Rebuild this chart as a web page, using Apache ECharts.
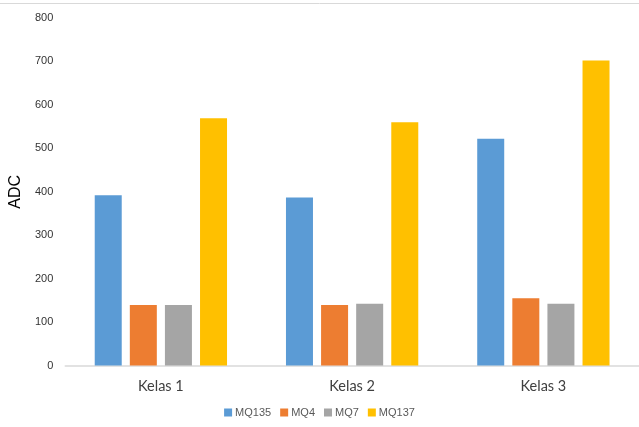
<!DOCTYPE html>
<html>
<head>
<meta charset="utf-8">
<script src="https://cdn.jsdelivr.net/npm/echarts@6/dist/echarts.min.js"></script>
<style>
html,body{margin:0;padding:0;background:#fff;}
#chart{width:639px;height:427px;}
</style>
</head>
<body>
<div id="chart"></div>
<script>
var categories = ['Kelas 1', 'Kelas 2', 'Kelas 3'];
var seriesNames = ['MQ135', 'MQ4', 'MQ7', 'MQ137'];
var mq135 = [392, 387, 522];
var mq4 = [139, 139, 155];
var mq7 = [139, 142, 142];
var mq137 = [569, 560, 702];
var colors = ['#5B9BD5', '#ED7D31', '#A5A5A5', '#FFC000'];
var valuesList = [mq135, mq4, mq7, mq137];

var chart = echarts.init(document.getElementById('chart'));
var series = seriesNames.map(function (name, i) {
  return {
    name: name,
    type: 'bar',
    data: valuesList[i],
    barWidth: 27,
    barGap: '30%',
    itemStyle: { color: colors[i] }
  };
});
chart.setOption({
  animation: false,
  graphic: [{
    type: 'line',
    shape: { x1: 0, y1: 3.5, x2: 639, y2: 3.5 },
    style: { stroke: '#d9d9d9', lineWidth: 1 }
  }],
  grid: { left: 63, right: -2, top: 18, bottom: 61.5 },
  legend: {
    data: seriesNames,
    bottom: 4,
    left: 'center',
    itemWidth: 8,
    itemHeight: 8,
    itemGap: 9,
    icon: 'rect',
    textStyle: { fontFamily: 'Liberation Sans, Arial, sans-serif', fontSize: 11, color: '#595959', padding: [0, 0, 0, -2] }
  },
  xAxis: {
    type: 'category',
    data: categories,
    axisLine: { lineStyle: { color: '#d9d9d9', width: 1.5 } },
    axisTick: { show: false },
    axisLabel: { fontFamily: 'Lato, Open Sans, sans-serif', fontSize: 14.5, color: '#404040', margin: 13 }
  },
  yAxis: {
    type: 'value',
    min: 0,
    max: 800,
    interval: 100,
    name: 'ADC',
    nameLocation: 'middle',
    nameGap: 38,
    nameTextStyle: { fontFamily: 'Liberation Sans, Arial, sans-serif', fontSize: 16, color: '#000' },
    splitLine: { show: false },
    axisLine: { show: false },
    axisTick: { show: false },
    axisLabel: { fontFamily: 'Liberation Sans, Arial, sans-serif', fontSize: 11, color: '#333', margin: 12 }
  },
  series: series
});
</script>
</body>
</html>
